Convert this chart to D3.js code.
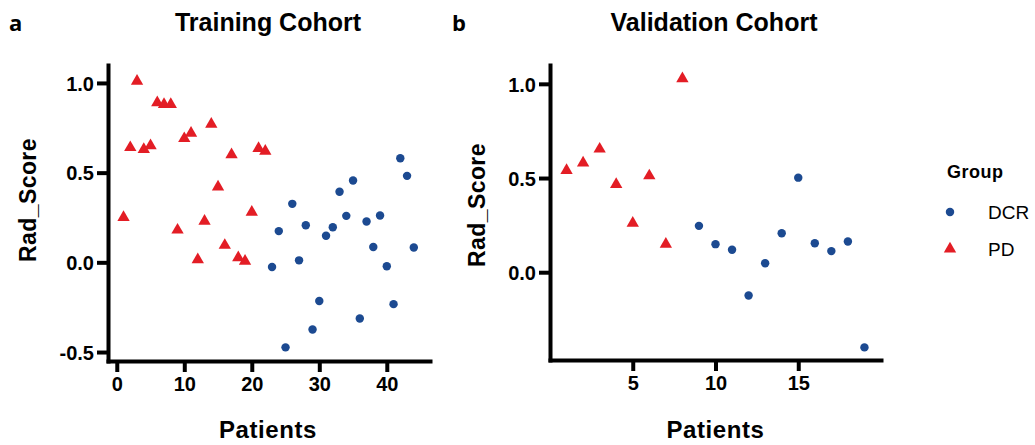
<!DOCTYPE html>
<html>
<head>
<meta charset="utf-8">
<script src="https://cdn.jsdelivr.net/npm/d3@7"></script>
<style>
  body { margin: 0; background: #fff; }
  svg { display: block; }
  .tick text { font-family: "Liberation Sans", Arial, sans-serif; font-weight: bold; font-size: 20px; fill: #000; }
</style>
</head>
<body>
<svg id="chart" width="1035" height="445"></svg>
<script>
// training cohort (patient index, rad score)
const trainPDx  = [1,2,3,4,5,6,7,8,9,10,11,12,13,14,15,16,17,18,19,20,21,22];
const trainPDy  = [0.25,0.64,1.01,0.63,0.65,0.89,0.88,0.88,0.18,0.69,0.72,0.015,0.23,0.77,0.42,0.095,0.60,0.026,0.007,0.28,0.635,0.62];
const trainDCRx = [23,24,25,26,27,28,29,30,31,32,33,34,35,36,37,38,39,40,41,42,43,44];
const trainDCRy = [-0.026,0.174,-0.474,0.326,0.011,0.207,-0.374,-0.215,0.148,0.196,0.393,0.259,0.456,-0.313,0.228,0.085,0.261,-0.022,-0.233,0.58,0.482,0.083];

// validation cohort
const validPDx  = [1,2,3,4,5,6,7,8];
const validPDy  = [0.54,0.58,0.654,0.466,0.26,0.512,0.149,1.027];
const validDCRx = [9,10,11,12,13,14,15,16,17,18,19];
const validDCRy = [0.246,0.149,0.119,-0.124,0.048,0.207,0.502,0.154,0.112,0.163,-0.399];

const trainXTicks = [0,10,20,30,40];
const trainYTicks = [-0.5,0,0.5,1.0];
const validXTicks = [5,10,15];
const validYTicks = [0,0.5,1.0];

const groups = ["DCR","PD"];
const colors = { DCR: "#1c4a91", PD: "#e31d25" };

const svg = d3.select("#chart");
const FONT = '"Liberation Sans", Arial, sans-serif';

const circleSym = d3.symbol().type(d3.symbolCircle).size(56);
const triSym    = d3.symbol().type(d3.symbolTriangle).size(66);

function fmtY(v) { return d3.format(".1f")(v).replace("\u2212", "-"); }

function drawPanel(opt) {
  const x = d3.scaleLinear().domain(opt.xDomain).range(opt.xRange);
  const y = d3.scaleLinear().domain(opt.yDomain).range(opt.yRange);
  const g = svg.append("g");

  // axes
  const xAxis = g.append("g")
    .attr("transform", `translate(0,${opt.yRange[0]})`)
    .call(d3.axisBottom(x).tickValues(opt.xTicks).tickSize(11).tickSizeOuter(0).tickPadding(5));
  const yAxis = g.append("g")
    .attr("transform", `translate(${opt.xRange[0]},0)`)
    .call(d3.axisLeft(y).tickValues(opt.yTicks).tickFormat(fmtY).tickSize(11).tickSizeOuter(0).tickPadding(3));

  [xAxis, yAxis].forEach(a => {
    a.select(".domain").attr("stroke", "#000").attr("stroke-width", 4).attr("stroke-linecap", "square");
    a.selectAll(".tick line").attr("stroke", "#000").attr("stroke-width", 4);
  });
  yAxis.selectAll(".tick text").attr("dy", "0.36em");

  // points
  g.selectAll("path.dcr")
    .data(opt.dcrX.map((d, i) => [d, opt.dcrY[i]]))
    .join("path")
      .attr("class", "dcr")
      .attr("d", circleSym)
      .attr("transform", d => `translate(${x(d[0])},${y(d[1])})`)
      .attr("fill", colors.DCR);

  g.selectAll("path.pd")
    .data(opt.pdX.map((d, i) => [d, opt.pdY[i]]))
    .join("path")
      .attr("class", "pd")
      .attr("d", triSym)
      .attr("transform", d => `translate(${x(d[0])},${y(d[1])})`)
      .attr("fill", colors.PD);

  // titles
  g.append("text")
    .attr("x", opt.titleX).attr("y", 31)
    .attr("text-anchor", "middle")
    .style("font-family", FONT).style("font-weight", "bold").style("font-size", "25px")
    .text(opt.title);

  g.append("text")
    .attr("x", opt.letterX).attr("y", 31)
    .style("font-family", '"Open Sans", sans-serif').style("font-weight", "bold").style("font-size", "22px")
    .text(opt.letter);

  g.append("text")
    .attr("x", (opt.xRange[0] + opt.xRange[1]) / 2 + opt.xLabelShift).attr("y", 438)
    .attr("text-anchor", "middle")
    .style("font-family", FONT).style("font-weight", "bold").style("font-size", "24px")
    .style("letter-spacing", "0.6px")
    .text("Patients");

  g.append("text")
    .attr("transform", `translate(${opt.yLabelX},${opt.yLabelY}) rotate(-90)`)
    .attr("text-anchor", "middle")
    .style("font-family", FONT).style("font-weight", "bold").style("font-size", "23px")
    .style("letter-spacing", "0.4px")
    .text("Rad_Score");
}

drawPanel({
  xDomain: [-1.3, 46.4], xRange: [108, 430],
  yDomain: [-0.55, 1.1], yRange: [361, 65],
  xTicks: trainXTicks, yTicks: trainYTicks,
  pdX: trainPDx, pdY: trainPDy, dcrX: trainDCRx, dcrY: trainDCRy,
  title: "Training Cohort", titleX: 268, letter: "a", letterX: 9,
  xLabelShift: -1, yLabelX: 36, yLabelY: 200
});

drawPanel({
  xDomain: [0, 20], xRange: [550, 881],
  yDomain: [-0.466, 1.1], yRange: [360, 65],
  xTicks: validXTicks, yTicks: validYTicks,
  pdX: validPDx, pdY: validPDy, dcrX: validDCRx, dcrY: validDCRy,
  title: "Validation Cohort", titleX: 714, letter: "b", letterX: 452,
  xLabelShift: 0, yLabelX: 485, yLabelY: 205
});

// legend
const legend = svg.append("g");
legend.append("text")
  .attr("x", 947).attr("y", 178)
  .style("font-family", FONT).style("font-weight", "bold").style("font-size", "18px")
  .style("letter-spacing", "0.5px")
  .text("Group");

groups.forEach((k, i) => {
  const cy = 212 + i * 37;
  legend.append("path")
    .attr("d", k === "DCR" ? circleSym() : triSym())
    .attr("transform", `translate(950,${cy})`)
    .attr("fill", colors[k]);
  legend.append("text")
    .attr("x", 988).attr("y", cy + 7)
    .style("font-family", FONT).style("font-size", "19px")
    .text(k);
});
</script>
</body>
</html>
